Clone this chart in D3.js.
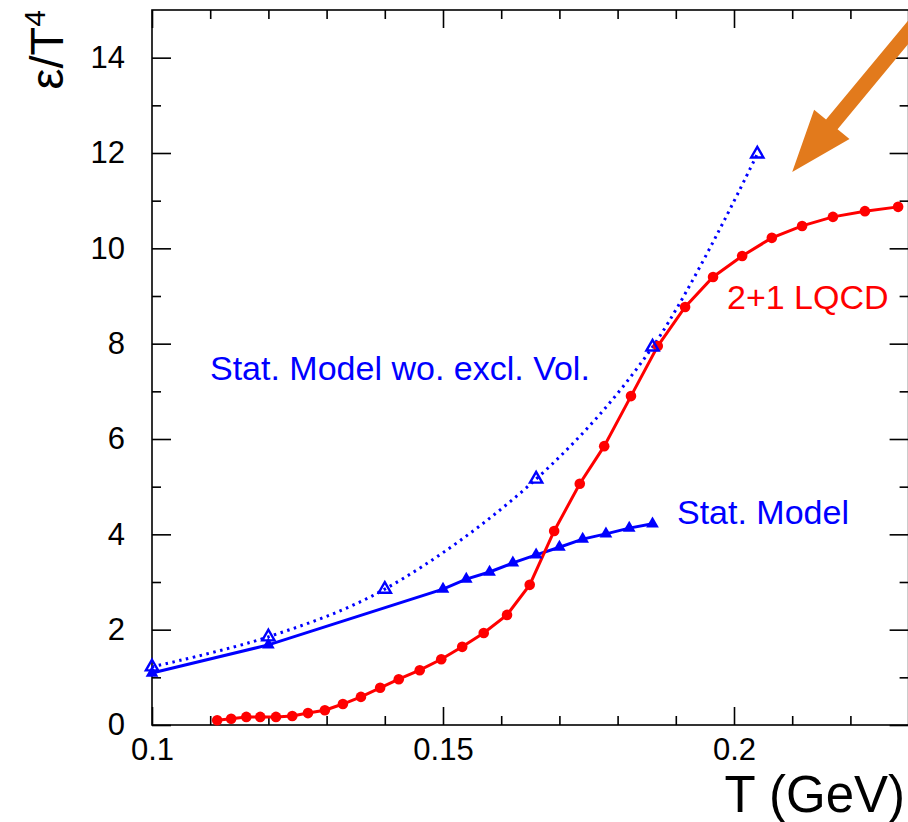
<!DOCTYPE html>
<html>
<head>
<meta charset="utf-8">
<script src="https://cdn.jsdelivr.net/npm/d3@7"></script>
<style>
  body { margin: 0; background: #fff; }
  svg { display: block; font-family: "Liberation Sans", Arial, Helvetica, sans-serif; }
  .axis path, .axis line { stroke: #000; stroke-width: 1.6; }
  .axis text { font-size: 31px; fill: #000; }
</style>
</head>
<body>
<svg id="chart" width="908" height="822"></svg>
<script>
// lattice QCD 2+1 flavours
var T_lqcd = [0.1112, 0.1136, 0.1162, 0.1186, 0.1213, 0.1241, 0.1268, 0.1297, 0.1328, 0.1359,
              0.1392, 0.1424, 0.1460, 0.1497, 0.1533, 0.1570, 0.1610, 0.1649, 0.1691, 0.1735,
              0.1777, 0.1823, 0.1869, 0.1916, 0.1964, 0.2014, 0.2065, 0.2117, 0.2170, 0.2225, 0.2282];
var eps_lqcd = [0.10, 0.13, 0.17, 0.17, 0.17, 0.19, 0.25, 0.31, 0.44, 0.59,
                0.78, 0.96, 1.15, 1.38, 1.64, 1.93, 2.31, 2.94, 4.07, 5.06,
                5.85, 6.90, 7.95, 8.77, 9.40, 9.84, 10.22, 10.47, 10.66, 10.78, 10.87];

// stat. model (with excluded volume)
var T_stat = [0.1, 0.12, 0.15, 0.154, 0.158, 0.162, 0.166, 0.17, 0.174, 0.178, 0.182, 0.186];
var eps_stat = [1.09, 1.68, 2.85, 3.06, 3.21, 3.40, 3.57, 3.73, 3.90, 4.01, 4.13, 4.22];

// stat. model without excluded volume
var T_noexcl = [0.1, 0.12, 0.14, 0.166, 0.186, 0.204];
var eps_noexcl = [1.22, 1.85, 2.85, 5.16, 7.93, 11.98];

var xMajor = [0.1, 0.15, 0.2];
var xMinor = [0.11, 0.12, 0.13, 0.14, 0.16, 0.17, 0.18, 0.19, 0.21, 0.22];
var yMajor = [0, 2, 4, 6, 8, 10, 12, 14];
var yMinor = [1, 3, 5, 7, 9, 11, 13];

// arrow annotation, in data units (tail, tip)
var arrowFrom = [0.2355, 15.35];
var arrowTo = [0.2100, 11.60];

var svg = d3.select('#chart');
var x = d3.scaleLinear().domain([0.1, 0.23]).range([152, 908.6]);
var y = d3.scaleLinear().domain([0, 15]).range([725, 10]);

function zip(a, b) {
    return a.map(function(v, i) { return [v, b[i]]; });
}

// frame
svg.append('rect')
    .attr('x', x(0.1)).attr('y', y(15))
    .attr('width', x(0.23) - x(0.1)).attr('height', y(0) - y(15))
    .attr('fill', 'none').attr('stroke', '#000').attr('stroke-width', 1.6);

// ticks
function ticks(axis, values, size, labels) {
    var a = axis.tickValues(values).tickSize(size).tickSizeOuter(0);
    if (!labels) a.tickFormat('');
    return a;
}
var fmt = function(d) { return d3.format('')(+d.toFixed(2)); };

svg.append('g').attr('class', 'axis').attr('transform', 'translate(0,725)')
    .call(ticks(d3.axisBottom(x), xMajor, -18, true).tickFormat(fmt).tickPadding(13));
svg.append('g').attr('class', 'axis').attr('transform', 'translate(0,725)')
    .call(ticks(d3.axisBottom(x), xMinor, -9, false));
svg.append('g').attr('class', 'axis').attr('transform', 'translate(0,10)')
    .call(ticks(d3.axisTop(x), xMajor, -18, false));
svg.append('g').attr('class', 'axis').attr('transform', 'translate(0,10)')
    .call(ticks(d3.axisTop(x), xMinor, -9, false));

svg.append('g').attr('class', 'axis').attr('transform', 'translate(152,0)')
    .call(ticks(d3.axisLeft(y), yMajor, -19, true).tickPadding(27));
svg.append('g').attr('class', 'axis').attr('transform', 'translate(152,0)')
    .call(ticks(d3.axisLeft(y), yMinor, -9, false));
svg.append('g').attr('class', 'axis').attr('transform', 'translate(908.6,0)')
    .call(ticks(d3.axisRight(y), yMajor, -19, false));
svg.append('g').attr('class', 'axis').attr('transform', 'translate(908.6,0)')
    .call(ticks(d3.axisRight(y), yMinor, -9, false));
svg.selectAll('.axis path.domain').remove();

// axis titles
svg.append('text')
    .attr('x', 905).attr('y', 812)
    .attr('text-anchor', 'end')
    .style('font-size', '51px')
    .text('T (GeV)');

var ylab = svg.append('text')
    .attr('transform', 'translate(63,10) rotate(-90)')
    .attr('text-anchor', 'end')
    .style('font-size', '47px');
ylab.append('tspan').text('\u03b5/T');
ylab.append('tspan').attr('dy', -18).style('font-size', '30px').text('4');

// curves
var line = d3.line().x(function(d) { return x(d[0]); }).y(function(d) { return y(d[1]); });

svg.append('path')
    .datum(zip(T_noexcl, eps_noexcl))
    .attr('d', line.curve(d3.curveCatmullRom))
    .attr('fill', 'none').attr('stroke', '#0000ff')
    .attr('stroke-width', 3).attr('stroke-dasharray', '2.5,4.5');

svg.append('path')
    .datum(zip(T_stat, eps_stat))
    .attr('d', line.curve(d3.curveLinear))
    .attr('fill', 'none').attr('stroke', '#0000ff').attr('stroke-width', 3);

svg.append('path')
    .datum(zip(T_lqcd, eps_lqcd))
    .attr('d', line.curve(d3.curveLinear))
    .attr('fill', 'none').attr('stroke', '#ff0000').attr('stroke-width', 3);

// markers
svg.append('g').selectAll('path')
    .data(zip(T_stat, eps_stat))
    .enter().append('path')
    .attr('d', d3.symbol().type(d3.symbolTriangle).size(70))
    .attr('transform', function(d) { return 'translate(' + x(d[0]) + ',' + y(d[1]) + ')'; })
    .attr('fill', '#0000ff');

svg.append('g').selectAll('circle')
    .data(zip(T_lqcd, eps_lqcd))
    .enter().append('circle')
    .attr('cx', function(d) { return x(d[0]); })
    .attr('cy', function(d) { return y(d[1]); })
    .attr('r', 5.3)
    .attr('fill', '#ff0000');

svg.append('g').selectAll('path')
    .data(zip(T_noexcl, eps_noexcl))
    .enter().append('path')
    .attr('d', d3.symbol().type(d3.symbolTriangle).size(65))
    .attr('transform', function(d) { return 'translate(' + x(d[0]) + ',' + y(d[1]) + ')'; })
    .attr('fill', 'none').attr('stroke', '#0000ff').attr('stroke-width', 2.4);

// curve labels
svg.append('text').attr('x', 210).attr('y', 380)
    .style('font-size', '34px').attr('fill', '#0000ff')
    .text('Stat. Model wo. excl. Vol.');
svg.append('text').attr('x', 677).attr('y', 524)
    .style('font-size', '34px').attr('fill', '#0000ff')
    .text('Stat. Model');
svg.append('text').attr('x', 727).attr('y', 309)
    .style('font-size', '34px').attr('fill', '#ff0000')
    .text('2+1 LQCD');

// big orange arrow
var p0 = [x(arrowFrom[0]), y(arrowFrom[1])];
var p1 = [x(arrowTo[0]), y(arrowTo[1])];
var dx = p1[0] - p0[0], dy = p1[1] - p0[1];
var len = Math.sqrt(dx * dx + dy * dy);
var ux = dx / len, uy = dy / len, nx = -uy, ny = ux;
var headLen = 62, headHalf = 23, shaftHalf = 7.5;
var bx = p1[0] - ux * headLen, by = p1[1] - uy * headLen;
var pts = [
    [p0[0] + nx * shaftHalf, p0[1] + ny * shaftHalf],
    [bx + nx * shaftHalf, by + ny * shaftHalf],
    [bx + nx * headHalf, by + ny * headHalf],
    p1,
    [bx - nx * headHalf, by - ny * headHalf],
    [bx - nx * shaftHalf, by - ny * shaftHalf],
    [p0[0] - nx * shaftHalf, p0[1] - ny * shaftHalf]
];
svg.append('polygon')
    .attr('points', pts.map(function(p) { return p.join(','); }).join(' '))
    .attr('fill', '#e27a1c');
</script>
</body>
</html>
